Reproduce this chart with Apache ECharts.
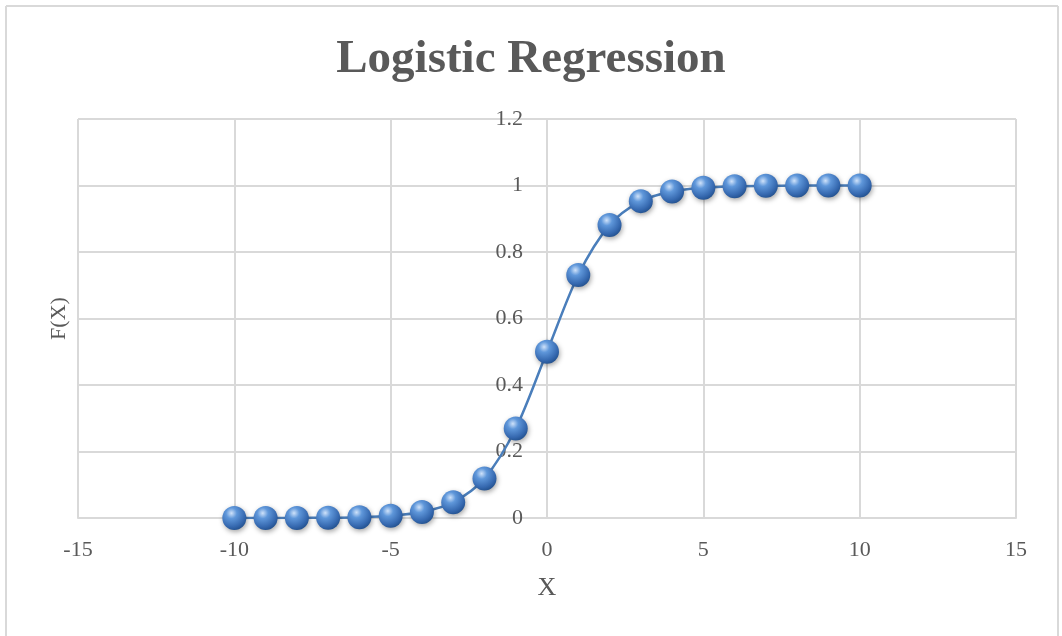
<!DOCTYPE html>
<html>
<head>
<meta charset="utf-8">
<script src="https://cdn.jsdelivr.net/npm/echarts@6/dist/echarts.min.js"></script>
<style>html,body{margin:0;padding:0;background:#fff;}#c{width:1062px;height:636px;}</style>
</head>
<body>
<div id="c"></div>
<script>
const xValues = [-10, -9, -8, -7, -6, -5, -4, -3, -2, -1, 0, 1, 2, 3, 4, 5, 6, 7, 8, 9, 10];
const fValues = [0.00005, 0.0001, 0.0003, 0.0009, 0.0025, 0.0067, 0.018, 0.047, 0.119, 0.269, 0.5, 0.731, 0.881, 0.953, 0.982, 0.993, 0.998, 0.999, 0.9997, 0.9999, 1.0];
const titleText = 'Logistic Regression';
const xName = 'X';
const yName = 'F(X)';

const chart = echarts.init(document.getElementById('c'), null, {renderer: 'canvas'});
const serif = '"Liberation Serif", "DejaVu Serif", serif';
const gridColor = '#d9d9d9';
const textColor = '#595959';

const points = xValues.map((x, i) => [x, fValues[i]]);

// grid geometry: x from -15..15 over 78..1016 px -> x=0 at 547
const gridLeft = 78, gridRight = 46;
const zeroOffset = -(547 - gridLeft);

chart.setOption({
  backgroundColor: '#ffffff',
  animation: false,
  title: {
    text: titleText,
    left: 'center',
    top: 31,
    textStyle: {fontFamily: serif, fontSize: 47, fontWeight: 'bold', color: textColor}
  },
  graphic: [
    {type: 'line', shape: {x1: 6, y1: 6, x2: 1058, y2: 6}, style: {stroke: gridColor, lineWidth: 2}, silent: true},
    {type: 'line', shape: {x1: 6, y1: 6, x2: 6, y2: 636}, style: {stroke: gridColor, lineWidth: 2}, silent: true},
    {type: 'line', shape: {x1: 1058, y1: 6, x2: 1058, y2: 636}, style: {stroke: gridColor, lineWidth: 2}, silent: true}
  ],
  grid: {left: gridLeft, right: gridRight, top: 119, bottom: 118, containLabel: false},
  xAxis: {
    type: 'value',
    min: -15, max: 15, interval: 5,
    name: xName,
    nameLocation: 'middle',
    nameGap: 57,
    nameTextStyle: {fontFamily: serif, fontSize: 26, color: textColor},
    axisLine: {show: true, onZero: false, lineStyle: {color: gridColor, width: 2}},
    axisTick: {show: false},
    splitLine: {show: true, lineStyle: {color: gridColor, width: 2}},
    axisLabel: {fontFamily: serif, fontSize: 22, color: textColor, margin: 21}
  },
  yAxis: [{
    type: 'value',
    position: 'left',
    min: 0, max: 1.2, interval: 0.2,
    name: yName,
    nameLocation: 'middle',
    nameGap: 8,
    nameTextStyle: {fontFamily: serif, fontSize: 22, color: textColor},
    axisLine: {show: false},
    axisTick: {show: false},
    axisLabel: {show: false},
    splitLine: {show: true, lineStyle: {color: gridColor, width: 2}}
  }, {
    type: 'value',
    position: 'left',
    offset: zeroOffset,
    min: 0, max: 1.2, interval: 0.2,
    axisLine: {show: true, onZero: false, lineStyle: {color: gridColor, width: 2}},
    axisTick: {show: false},
    splitLine: {show: false},
    axisLabel: {fontFamily: serif, fontSize: 22, color: textColor, margin: 24}
  }],
  series: [{
    type: 'line',
    yAxisIndex: 0,
    data: points,
    smooth: 0.3,
    symbol: 'circle',
    symbolSize: 24,
    lineStyle: {color: '#4a7ebb', width: 2.5},
    itemStyle: {
      color: new echarts.graphic.RadialGradient(0.38, 0.3, 0.75, [
        {offset: 0, color: '#cfe2fa'},
        {offset: 0.3, color: '#5f97da'},
        {offset: 0.75, color: '#3669b0'},
        {offset: 1, color: '#214f8c'}
      ]),
      borderWidth: 0,
      shadowColor: 'rgba(0,0,0,0.35)',
      shadowBlur: 5,
      shadowOffsetX: 1,
      shadowOffsetY: 2
    },
    z: 3
  }]
});
</script>
</body>
</html>
